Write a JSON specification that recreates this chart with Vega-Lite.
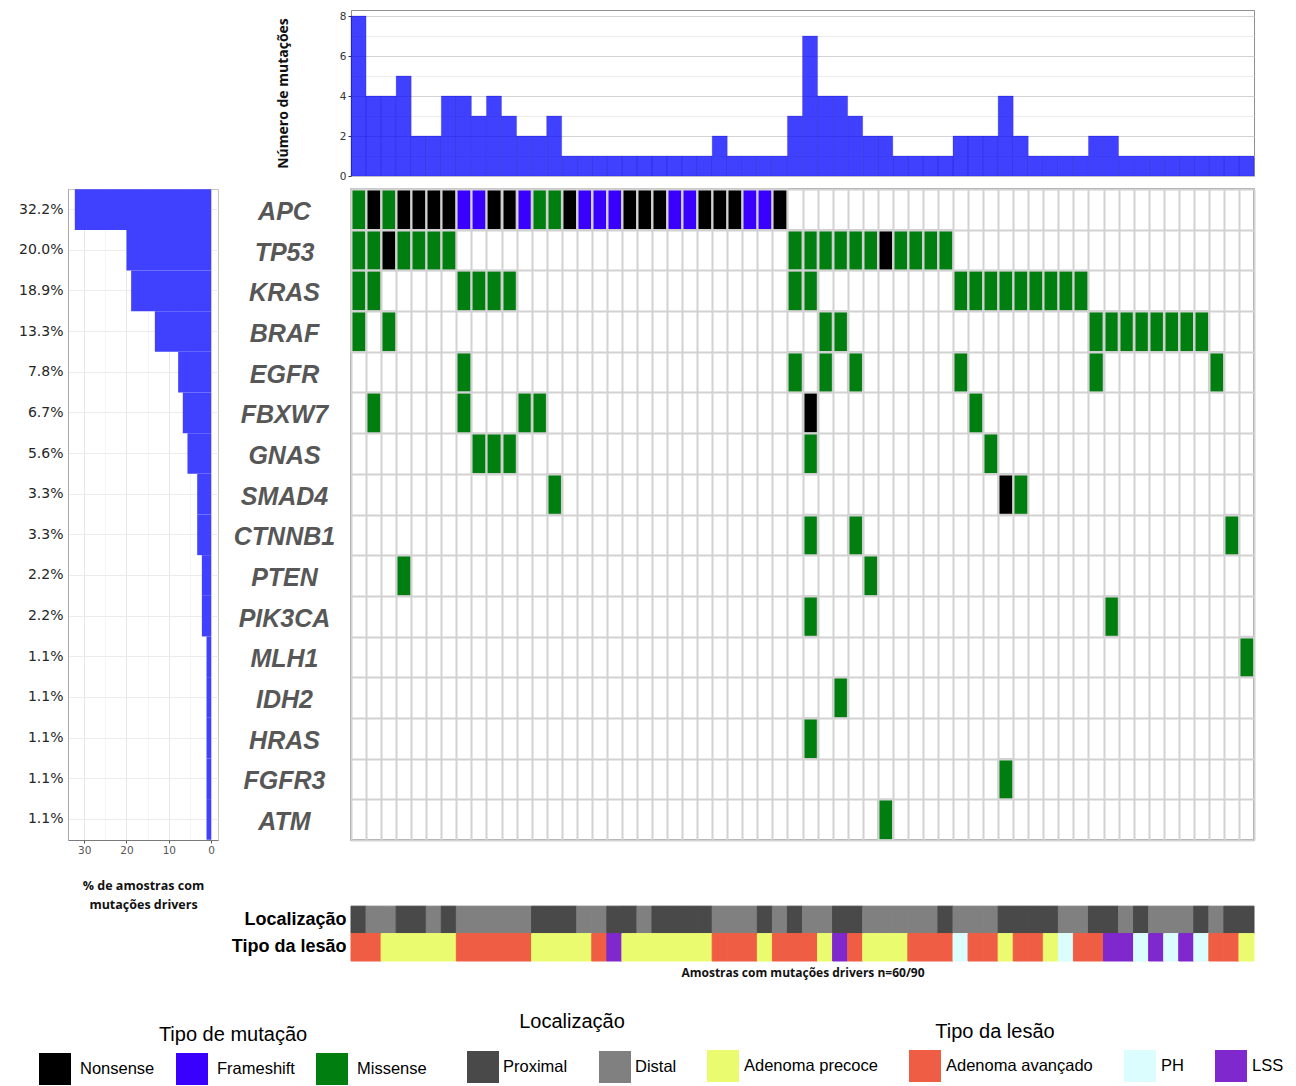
{
  "$schema": "https://vega.github.io/schema/vega-lite/v6.json",
  "background": "white",
  "autosize": {"type": "pad"},
  "padding": {"left": 18, "top": 9, "right": 4, "bottom": 2},
  "datasets": {
    "amostras": [
      {"a": "A01", "n": 8, "loc": "Proximal", "tipo": "Adenoma avançado"},
      {"a": "A02", "n": 4, "loc": "Distal", "tipo": "Adenoma avançado"},
      {"a": "A03", "n": 4, "loc": "Distal", "tipo": "Adenoma precoce"},
      {"a": "A04", "n": 5, "loc": "Proximal", "tipo": "Adenoma precoce"},
      {"a": "A05", "n": 2, "loc": "Proximal", "tipo": "Adenoma precoce"},
      {"a": "A06", "n": 2, "loc": "Distal", "tipo": "Adenoma precoce"},
      {"a": "A07", "n": 4, "loc": "Proximal", "tipo": "Adenoma precoce"},
      {"a": "A08", "n": 4, "loc": "Distal", "tipo": "Adenoma avançado"},
      {"a": "A09", "n": 3, "loc": "Distal", "tipo": "Adenoma avançado"},
      {"a": "A10", "n": 4, "loc": "Distal", "tipo": "Adenoma avançado"},
      {"a": "A11", "n": 3, "loc": "Distal", "tipo": "Adenoma avançado"},
      {"a": "A12", "n": 2, "loc": "Distal", "tipo": "Adenoma avançado"},
      {"a": "A13", "n": 2, "loc": "Proximal", "tipo": "Adenoma precoce"},
      {"a": "A14", "n": 3, "loc": "Proximal", "tipo": "Adenoma precoce"},
      {"a": "A15", "n": 1, "loc": "Proximal", "tipo": "Adenoma precoce"},
      {"a": "A16", "n": 1, "loc": "Distal", "tipo": "Adenoma precoce"},
      {"a": "A17", "n": 1, "loc": "Distal", "tipo": "Adenoma avançado"},
      {"a": "A18", "n": 1, "loc": "Proximal", "tipo": "LSS"},
      {"a": "A19", "n": 1, "loc": "Proximal", "tipo": "Adenoma precoce"},
      {"a": "A20", "n": 1, "loc": "Distal", "tipo": "Adenoma precoce"},
      {"a": "A21", "n": 1, "loc": "Proximal", "tipo": "Adenoma precoce"},
      {"a": "A22", "n": 1, "loc": "Proximal", "tipo": "Adenoma precoce"},
      {"a": "A23", "n": 1, "loc": "Proximal", "tipo": "Adenoma precoce"},
      {"a": "A24", "n": 1, "loc": "Proximal", "tipo": "Adenoma precoce"},
      {"a": "A25", "n": 2, "loc": "Distal", "tipo": "Adenoma avançado"},
      {"a": "A26", "n": 1, "loc": "Distal", "tipo": "Adenoma avançado"},
      {"a": "A27", "n": 1, "loc": "Distal", "tipo": "Adenoma avançado"},
      {"a": "A28", "n": 1, "loc": "Proximal", "tipo": "Adenoma precoce"},
      {"a": "A29", "n": 1, "loc": "Distal", "tipo": "Adenoma avançado"},
      {"a": "A30", "n": 3, "loc": "Proximal", "tipo": "Adenoma avançado"},
      {"a": "A31", "n": 7, "loc": "Distal", "tipo": "Adenoma avançado"},
      {"a": "A32", "n": 4, "loc": "Distal", "tipo": "Adenoma precoce"},
      {"a": "A33", "n": 4, "loc": "Proximal", "tipo": "LSS"},
      {"a": "A34", "n": 3, "loc": "Proximal", "tipo": "Adenoma avançado"},
      {"a": "A35", "n": 2, "loc": "Distal", "tipo": "Adenoma precoce"},
      {"a": "A36", "n": 2, "loc": "Distal", "tipo": "Adenoma precoce"},
      {"a": "A37", "n": 1, "loc": "Distal", "tipo": "Adenoma precoce"},
      {"a": "A38", "n": 1, "loc": "Distal", "tipo": "Adenoma avançado"},
      {"a": "A39", "n": 1, "loc": "Distal", "tipo": "Adenoma avançado"},
      {"a": "A40", "n": 1, "loc": "Proximal", "tipo": "Adenoma avançado"},
      {"a": "A41", "n": 2, "loc": "Distal", "tipo": "PH"},
      {"a": "A42", "n": 2, "loc": "Distal", "tipo": "Adenoma avançado"},
      {"a": "A43", "n": 2, "loc": "Distal", "tipo": "Adenoma avançado"},
      {"a": "A44", "n": 4, "loc": "Proximal", "tipo": "Adenoma precoce"},
      {"a": "A45", "n": 2, "loc": "Proximal", "tipo": "Adenoma avançado"},
      {"a": "A46", "n": 1, "loc": "Proximal", "tipo": "Adenoma avançado"},
      {"a": "A47", "n": 1, "loc": "Proximal", "tipo": "Adenoma precoce"},
      {"a": "A48", "n": 1, "loc": "Distal", "tipo": "PH"},
      {"a": "A49", "n": 1, "loc": "Distal", "tipo": "Adenoma avançado"},
      {"a": "A50", "n": 2, "loc": "Proximal", "tipo": "Adenoma avançado"},
      {"a": "A51", "n": 2, "loc": "Proximal", "tipo": "LSS"},
      {"a": "A52", "n": 1, "loc": "Distal", "tipo": "LSS"},
      {"a": "A53", "n": 1, "loc": "Proximal", "tipo": "PH"},
      {"a": "A54", "n": 1, "loc": "Distal", "tipo": "LSS"},
      {"a": "A55", "n": 1, "loc": "Distal", "tipo": "PH"},
      {"a": "A56", "n": 1, "loc": "Distal", "tipo": "LSS"},
      {"a": "A57", "n": 1, "loc": "Proximal", "tipo": "PH"},
      {"a": "A58", "n": 1, "loc": "Distal", "tipo": "Adenoma avançado"},
      {"a": "A59", "n": 1, "loc": "Proximal", "tipo": "Adenoma avançado"},
      {"a": "A60", "n": 1, "loc": "Proximal", "tipo": "Adenoma precoce"}
    ],
    "genes": [
      {"g": "APC", "pct": 32.2},
      {"g": "TP53", "pct": 20.0},
      {"g": "KRAS", "pct": 18.9},
      {"g": "BRAF", "pct": 13.3},
      {"g": "EGFR", "pct": 7.8},
      {"g": "FBXW7", "pct": 6.7},
      {"g": "GNAS", "pct": 5.6},
      {"g": "SMAD4", "pct": 3.3},
      {"g": "CTNNB1", "pct": 3.3},
      {"g": "PTEN", "pct": 2.2},
      {"g": "PIK3CA", "pct": 2.2},
      {"g": "MLH1", "pct": 1.1},
      {"g": "IDH2", "pct": 1.1},
      {"g": "HRAS", "pct": 1.1},
      {"g": "FGFR3", "pct": 1.1},
      {"g": "ATM", "pct": 1.1}
    ],
    "mutacoes": [
      {"a": "A01", "g": "APC", "t": "Missense"},
      {"a": "A02", "g": "APC", "t": "Nonsense"},
      {"a": "A03", "g": "APC", "t": "Missense"},
      {"a": "A04", "g": "APC", "t": "Nonsense"},
      {"a": "A05", "g": "APC", "t": "Nonsense"},
      {"a": "A06", "g": "APC", "t": "Nonsense"},
      {"a": "A07", "g": "APC", "t": "Nonsense"},
      {"a": "A08", "g": "APC", "t": "Frameshift"},
      {"a": "A09", "g": "APC", "t": "Frameshift"},
      {"a": "A10", "g": "APC", "t": "Nonsense"},
      {"a": "A11", "g": "APC", "t": "Nonsense"},
      {"a": "A12", "g": "APC", "t": "Frameshift"},
      {"a": "A13", "g": "APC", "t": "Missense"},
      {"a": "A14", "g": "APC", "t": "Missense"},
      {"a": "A15", "g": "APC", "t": "Nonsense"},
      {"a": "A16", "g": "APC", "t": "Frameshift"},
      {"a": "A17", "g": "APC", "t": "Frameshift"},
      {"a": "A18", "g": "APC", "t": "Frameshift"},
      {"a": "A19", "g": "APC", "t": "Nonsense"},
      {"a": "A20", "g": "APC", "t": "Nonsense"},
      {"a": "A21", "g": "APC", "t": "Nonsense"},
      {"a": "A22", "g": "APC", "t": "Frameshift"},
      {"a": "A23", "g": "APC", "t": "Frameshift"},
      {"a": "A24", "g": "APC", "t": "Nonsense"},
      {"a": "A25", "g": "APC", "t": "Nonsense"},
      {"a": "A26", "g": "APC", "t": "Nonsense"},
      {"a": "A27", "g": "APC", "t": "Frameshift"},
      {"a": "A28", "g": "APC", "t": "Frameshift"},
      {"a": "A29", "g": "APC", "t": "Nonsense"},
      {"a": "A01", "g": "TP53", "t": "Missense"},
      {"a": "A02", "g": "TP53", "t": "Missense"},
      {"a": "A03", "g": "TP53", "t": "Nonsense"},
      {"a": "A04", "g": "TP53", "t": "Missense"},
      {"a": "A05", "g": "TP53", "t": "Missense"},
      {"a": "A06", "g": "TP53", "t": "Missense"},
      {"a": "A07", "g": "TP53", "t": "Missense"},
      {"a": "A30", "g": "TP53", "t": "Missense"},
      {"a": "A31", "g": "TP53", "t": "Missense"},
      {"a": "A32", "g": "TP53", "t": "Missense"},
      {"a": "A33", "g": "TP53", "t": "Missense"},
      {"a": "A34", "g": "TP53", "t": "Missense"},
      {"a": "A35", "g": "TP53", "t": "Missense"},
      {"a": "A36", "g": "TP53", "t": "Nonsense"},
      {"a": "A37", "g": "TP53", "t": "Missense"},
      {"a": "A38", "g": "TP53", "t": "Missense"},
      {"a": "A39", "g": "TP53", "t": "Missense"},
      {"a": "A40", "g": "TP53", "t": "Missense"},
      {"a": "A01", "g": "KRAS", "t": "Missense"},
      {"a": "A02", "g": "KRAS", "t": "Missense"},
      {"a": "A08", "g": "KRAS", "t": "Missense"},
      {"a": "A09", "g": "KRAS", "t": "Missense"},
      {"a": "A10", "g": "KRAS", "t": "Missense"},
      {"a": "A11", "g": "KRAS", "t": "Missense"},
      {"a": "A30", "g": "KRAS", "t": "Missense"},
      {"a": "A31", "g": "KRAS", "t": "Missense"},
      {"a": "A41", "g": "KRAS", "t": "Missense"},
      {"a": "A42", "g": "KRAS", "t": "Missense"},
      {"a": "A43", "g": "KRAS", "t": "Missense"},
      {"a": "A44", "g": "KRAS", "t": "Missense"},
      {"a": "A45", "g": "KRAS", "t": "Missense"},
      {"a": "A46", "g": "KRAS", "t": "Missense"},
      {"a": "A47", "g": "KRAS", "t": "Missense"},
      {"a": "A48", "g": "KRAS", "t": "Missense"},
      {"a": "A49", "g": "KRAS", "t": "Missense"},
      {"a": "A01", "g": "BRAF", "t": "Missense"},
      {"a": "A03", "g": "BRAF", "t": "Missense"},
      {"a": "A32", "g": "BRAF", "t": "Missense"},
      {"a": "A33", "g": "BRAF", "t": "Missense"},
      {"a": "A50", "g": "BRAF", "t": "Missense"},
      {"a": "A51", "g": "BRAF", "t": "Missense"},
      {"a": "A52", "g": "BRAF", "t": "Missense"},
      {"a": "A53", "g": "BRAF", "t": "Missense"},
      {"a": "A54", "g": "BRAF", "t": "Missense"},
      {"a": "A55", "g": "BRAF", "t": "Missense"},
      {"a": "A56", "g": "BRAF", "t": "Missense"},
      {"a": "A57", "g": "BRAF", "t": "Missense"},
      {"a": "A08", "g": "EGFR", "t": "Missense"},
      {"a": "A30", "g": "EGFR", "t": "Missense"},
      {"a": "A32", "g": "EGFR", "t": "Missense"},
      {"a": "A34", "g": "EGFR", "t": "Missense"},
      {"a": "A41", "g": "EGFR", "t": "Missense"},
      {"a": "A50", "g": "EGFR", "t": "Missense"},
      {"a": "A58", "g": "EGFR", "t": "Missense"},
      {"a": "A02", "g": "FBXW7", "t": "Missense"},
      {"a": "A08", "g": "FBXW7", "t": "Missense"},
      {"a": "A12", "g": "FBXW7", "t": "Missense"},
      {"a": "A13", "g": "FBXW7", "t": "Missense"},
      {"a": "A31", "g": "FBXW7", "t": "Nonsense"},
      {"a": "A42", "g": "FBXW7", "t": "Missense"},
      {"a": "A09", "g": "GNAS", "t": "Missense"},
      {"a": "A10", "g": "GNAS", "t": "Missense"},
      {"a": "A11", "g": "GNAS", "t": "Missense"},
      {"a": "A31", "g": "GNAS", "t": "Missense"},
      {"a": "A43", "g": "GNAS", "t": "Missense"},
      {"a": "A14", "g": "SMAD4", "t": "Missense"},
      {"a": "A44", "g": "SMAD4", "t": "Nonsense"},
      {"a": "A45", "g": "SMAD4", "t": "Missense"},
      {"a": "A31", "g": "CTNNB1", "t": "Missense"},
      {"a": "A34", "g": "CTNNB1", "t": "Missense"},
      {"a": "A59", "g": "CTNNB1", "t": "Missense"},
      {"a": "A04", "g": "PTEN", "t": "Missense"},
      {"a": "A35", "g": "PTEN", "t": "Missense"},
      {"a": "A31", "g": "PIK3CA", "t": "Missense"},
      {"a": "A51", "g": "PIK3CA", "t": "Missense"},
      {"a": "A60", "g": "MLH1", "t": "Missense"},
      {"a": "A33", "g": "IDH2", "t": "Missense"},
      {"a": "A31", "g": "HRAS", "t": "Missense"},
      {"a": "A44", "g": "FGFR3", "t": "Missense"},
      {"a": "A36", "g": "ATM", "t": "Missense"}
    ]
  },
  "columns": 2,
  "align": "each",
  "bounds": "flush",
  "spacing": {"row": 13, "column": 133},
  "resolve": {"scale": {"color": "independent"}, "legend": {"color": "independent"}},
  "concat": [
    {
      "width": 150,
      "height": 166,
      "view": {"stroke": null},
      "data": {"values": [{}]},
      "mark": {"type": "point", "opacity": 0},
      "encoding": {}
    },
    {
      "width": 903,
      "height": 166,
      "data": {"name": "amostras"},
      "view": {"stroke": "#8f8f8f", "strokeWidth": 1},
      "mark": {"type": "bar", "fill": "#0000ff", "fillOpacity": 0.75, "stroke": "#1a1aa8", "strokeWidth": 0.6, "strokeOpacity": 0.4},
      "encoding": {
        "x": {"field": "a", "type": "nominal", "scale": {"paddingInner": 0, "paddingOuter": 0}, "axis": null},
        "y": {
          "field": "n",
          "type": "quantitative",
          "scale": {"domain": [0, 8.3], "nice": false},
          "axis": {
            "title": "Número de mutações",
            "values": [0, 1, 2, 3, 4, 5, 6, 7, 8],
            "labelExpr": "datum.value % 2 ? '' : datum.label",
            "gridColor": {"condition": {"test": "datum.value % 2", "value": "#ededed"}, "value": "#d3d3d3"},
            "gridWidth": 1.2,
            "tickOpacity": {"condition": {"test": "datum.value % 2", "value": 0}, "value": 1},
            "tickColor": "#333333",
            "tickSize": 3,
            "labelFont": "DejaVu Sans",
            "labelFontSize": 10.5,
            "labelColor": "#333333",
            "labelPadding": 2,
            "domainColor": "#8f8f8f",
            "titleFont": "Open Sans",
            "titleFontSize": 14,
            "titleFontWeight": "bold",
            "titleColor": "#111111",
            "titlePadding": 49
          }
        }
      }
    },
    {
      "width": 150,
      "height": 651,
      "data": {"name": "genes"},
      "view": {"stroke": "#c4c4c4"},
      "mark": {"type": "bar", "fill": "#4040ff"},
      "encoding": {
        "y": {
          "field": "g",
          "type": "nominal",
          "sort": null,
          "scale": {"domain": ["APC", "TP53", "KRAS", "BRAF", "EGFR", "FBXW7", "GNAS", "SMAD4", "CTNNB1", "PTEN", "PIK3CA", "MLH1", "IDH2", "HRAS", "FGFR3", "ATM"], "paddingInner": 0, "paddingOuter": 0.006},
          "axis": {
            "title": null,
            "labelExpr": "{'APC': '32.2%', 'TP53': '20.0%', 'KRAS': '18.9%', 'BRAF': '13.3%', 'EGFR': '7.8%', 'FBXW7': '6.7%', 'GNAS': '5.6%', 'SMAD4': '3.3%', 'CTNNB1': '3.3%', 'PTEN': '2.2%', 'PIK3CA': '2.2%', 'MLH1': '1.1%', 'IDH2': '1.1%', 'HRAS': '1.1%', 'FGFR3': '1.1%', 'ATM': '1.1%'}[datum.value]",
            "ticks": false,
            "domainColor": "#a8a8a8",
            "grid": true,
            "gridColor": "#ececec",
            "labelFont": "DejaVu Sans",
            "labelFontSize": 14,
            "labelColor": "#262626",
            "labelPadding": 5
          }
        },
        "x": {
          "field": "pct",
          "type": "quantitative",
          "scale": {"domain": [-1.61, 33.81], "reverse": true, "nice": false, "zero": false},
          "axis": {
            "values": [0, 5, 10, 15, 20, 25, 30],
            "labelExpr": "datum.value % 10 ? '' : datum.label",
            "gridColor": {"condition": {"test": "datum.value % 10", "value": "#f4f4f4"}, "value": "#e6e6e6"},
            "tickOpacity": {"condition": {"test": "datum.value % 10", "value": 0}, "value": 1},
            "tickColor": "#555555",
            "tickSize": 3,
            "labelFont": "DejaVu Sans",
            "labelFontSize": 10.5,
            "labelColor": "#555555",
            "domainColor": "#7a7a7a",
            "title": ["% de amostras com", "mutações drivers"],
            "titleFont": "Open Sans",
            "titleFontSize": 12.5,
            "titleFontWeight": "bold",
            "titleColor": "#111111",
            "titleLineHeight": 19,
            "titlePadding": 24
          }
        },
        "x2": {"datum": 0}
      }
    },
    {
      "width": 903,
      "height": 651,
      "data": {"name": "mutacoes"},
      "view": {"stroke": "#7d7d7d", "strokeWidth": 1.5},
      "mark": {"type": "rect", "stroke": "#cdcdcd", "strokeWidth": 1.5},
      "encoding": {
        "x": {
          "field": "a",
          "type": "nominal",
          "scale": {"paddingInner": 0, "paddingOuter": 0},
          "axis": {"title": null, "labels": false, "ticks": false, "domain": false, "grid": true, "tickBand": "extent", "gridColor": "#d2d2d2", "gridWidth": 2}
        },
        "y": {
          "field": "g",
          "type": "nominal",
          "scale": {"domain": ["APC", "TP53", "KRAS", "BRAF", "EGFR", "FBXW7", "GNAS", "SMAD4", "CTNNB1", "PTEN", "PIK3CA", "MLH1", "IDH2", "HRAS", "FGFR3", "ATM"], "paddingInner": 0, "paddingOuter": 0},
          "axis": {
            "title": null,
            "ticks": false,
            "domain": false,
            "grid": true,
            "tickBand": "extent",
            "gridColor": "#d2d2d2",
            "gridWidth": 2,
            "labelFont": "Liberation Sans",
            "labelFontSize": 25,
            "labelFontWeight": "bold",
            "labelFontStyle": "italic",
            "labelColor": "#575757",
            "labelAlign": "center",
            "labelBaseline": "middle",
            "labelPadding": 67,
            "labelOffset": 2
          }
        },
        "color": {
          "field": "t",
          "type": "nominal",
          "scale": {"domain": ["Nonsense", "Frameshift", "Missense"], "range": ["#000000", "#3a00ff", "#007f10"]},
          "legend": {
            "title": "Tipo de mutação",
            "orient": "none",
            "legendX": -312,
            "legendY": 836,
            "direction": "horizontal",
            "titlePadding": 8,
            "labelOffset": 9,
            "columnPadding": 21
          }
        }
      }
    },
    {
      "width": 150,
      "height": 108,
      "view": {"stroke": null},
      "data": {"values": [{}]},
      "mark": {"type": "point", "opacity": 0},
      "encoding": {}
    },
    {
      "width": 903,
      "height": 108,
      "data": {"name": "amostras"},
      "view": {"stroke": null},
      "encoding": {
        "x": {
          "field": "a",
          "type": "nominal",
          "scale": {"paddingInner": 0, "paddingOuter": 0},
          "axis": {
            "title": "Amostras com mutações drivers n=60/90",
            "labels": false,
            "ticks": false,
            "domain": false,
            "grid": false,
            "titleFont": "Open Sans",
            "titleFontSize": 12,
            "titleFontWeight": "bold",
            "titleColor": "#111111",
            "titlePadding": 6
          }
        }
      },
      "layer": [
        {
          "mark": {"type": "rect", "strokeWidth": 1},
          "encoding": {
            "y": {
              "datum": "Localização",
              "type": "nominal",
              "scale": {"domain": ["Localização", "Tipo da lesão"], "paddingInner": 0, "paddingOuter": 0.969, "align": 1},
              "axis": {
                "title": null,
                "ticks": false,
                "domain": false,
                "grid": false,
                "labelFont": "Liberation Sans",
                "labelFontSize": 18,
                "labelFontWeight": "bold",
                "labelColor": "#000000",
                "labelPadding": 5
              }
            },
            "color": {
              "field": "loc",
              "type": "nominal",
              "scale": {"domain": ["Proximal", "Distal"], "range": ["#494949", "#808080"]},
              "legend": {
                "title": "Localização",
                "orient": "none",
                "legendX": 116,
                "legendY": 159,
                "direction": "horizontal",
                "titlePadding": 19,
                "labelOffset": 4,
                "columnPadding": 31
              }
            },
            "stroke": {
              "field": "loc",
              "type": "nominal",
              "scale": {"domain": ["Proximal", "Distal"], "range": ["#494949", "#808080"]},
              "legend": null
            }
          }
        },
        {
          "mark": {"type": "rect", "strokeWidth": 1},
          "encoding": {
            "y": {"datum": "Tipo da lesão", "type": "nominal"},
            "color": {
              "field": "tipo",
              "type": "nominal",
              "scale": {"domain": ["Adenoma precoce", "Adenoma avançado", "PH", "LSS"], "range": ["#ebfb6f", "#ef5e44", "#dcfdfd", "#7f28cd"]},
              "legend": {
                "title": "Tipo da lesão",
                "orient": "none",
                "legendX": 356,
                "legendY": 169,
                "direction": "horizontal",
                "titlePadding": 8,
                "labelOffset": 5,
                "columnPadding": 31
              }
            },
            "stroke": {
              "field": "tipo",
              "type": "nominal",
              "scale": {"domain": ["Adenoma precoce", "Adenoma avançado", "PH", "LSS"], "range": ["#ebfb6f", "#ef5e44", "#dcfdfd", "#7f28cd"]},
              "legend": null
            }
          }
        }
      ],
      "resolve": {
        "scale": {"color": "independent", "stroke": "independent"},
        "legend": {"color": "independent"}
      }
    }
  ],
  "config": {
    "legend": {
      "labelFont": "Liberation Sans",
      "labelFontSize": 16.5,
      "labelColor": "#000000",
      "titleFont": "Liberation Sans",
      "titleFontSize": 20,
      "titleFontWeight": "normal",
      "titleColor": "#000000",
      "titleOrient": "top",
      "titleAnchor": "middle",
      "symbolType": "square",
      "symbolSize": 1024,
      "symbolStrokeWidth": 0,
      "symbolOpacity": 1,
      "padding": 0
    }
  }
}
